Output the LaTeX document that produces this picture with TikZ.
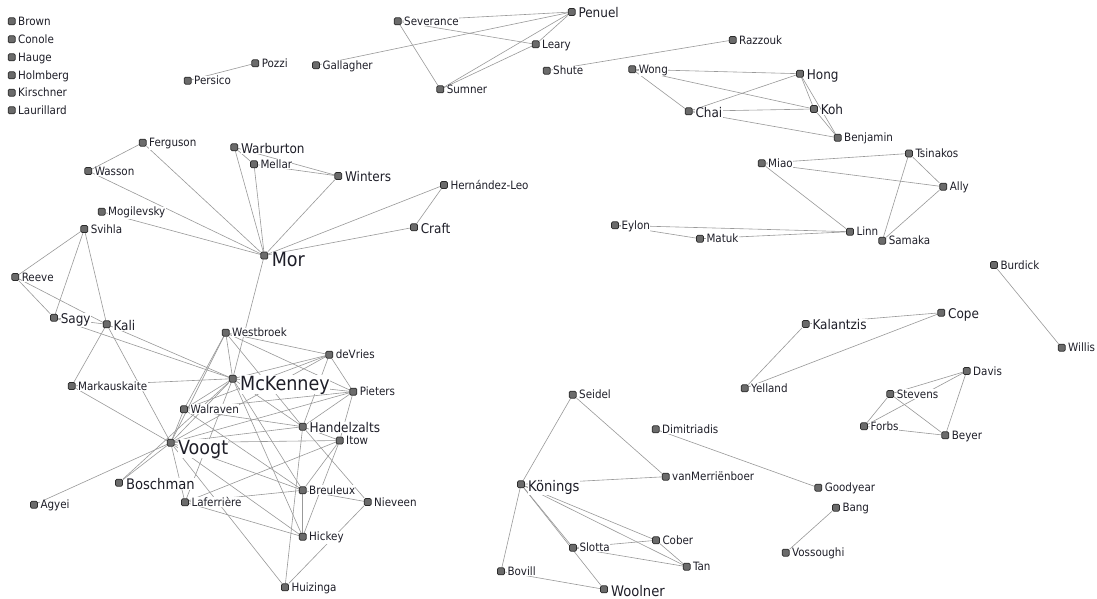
\documentclass[tikz,border=0pt]{standalone}
\usepackage{fontspec}
\setmainfont{DejaVu Sans Condensed}
\definecolor{vfill}{HTML}{6B6B6B}
\definecolor{vdraw}{HTML}{2B2B2B}
\definecolor{labtext}{HTML}{1E1E28}
\definecolor{edgec}{HTML}{999999}
\pgfdeclarelayer{bglayer}
\pgfdeclarelayer{edgelayer}
\pgfsetlayers{bglayer,edgelayer,main}
\tikzset{
  vbox/.style={rectangle, minimum size=7pt, inner sep=0pt, fill=vfill, draw=vdraw, line width=0.7pt, rounded corners=1.3pt},
  lab/.style={anchor=base west, inner sep=0.3pt, fill=white, text=labtext},
  lsn/.style={lab, font=\fontsize{11.5}{12}\selectfont},
  lsm/.style={lab, font=\fontsize{13.4}{14}\selectfont},
  lsl/.style={lab, font=\fontsize{14.6}{15}\selectfont},
  lsx/.style={lab, font=\fontsize{19.5}{20}\selectfont},
  edge/.style={draw=edgec, line width=0.6pt},
}
\newcommand\vtx[6]{\node[vbox] (#1) at (#2,#3) {}; \node[#5] (#1-l) at ([shift={(#6)}]#2,#3) {#4};}
\newcommand\vtxn[4]{\vtx{#1}{#2}{#3}{#4}{lsn}{6,4.2}}
\newcommand\vtxm[4]{\vtx{#1}{#2}{#3}{#4}{lsm}{6.3,5.8}}
\newcommand\vtxl[4]{\vtx{#1}{#2}{#3}{#4}{lsl}{6.6,6.9}}
\newcommand\vtxx[4]{\vtx{#1}{#2}{#3}{#4}{lsx}{7,11.3}}
\begin{document}
\begin{tikzpicture}[x=1pt,y=-1pt]
\begin{pgfonlayer}{bglayer}
\useasboundingbox[fill=white] (0,0) rectangle (1097,598);
\end{pgfonlayer}
% isolated
\vtxn{Brown}{11.7}{21.3}{Brown}
\vtxn{Conole}{11.7}{39.3}{Conole}
\vtxn{Hauge}{11.7}{57.3}{Hauge}
\vtxn{Holmberg}{11.7}{75.3}{Holmberg}
\vtxn{Kirschner}{11.7}{92.7}{Kirschner}
\vtxn{Laurillard}{11.7}{110.3}{Laurillard}
% top
\vtxn{Persico}{187.7}{80.7}{Persico}
\vtxn{Pozzi}{255.3}{63.3}{Pozzi}
\vtxn{Gallagher}{316}{65.3}{Gallagher}
\vtxn{Severance}{397.7}{21.3}{Severance}
\vtxm{Penuel}{571.7}{12}{Penuel}
\vtxn{Leary}{535.7}{44.3}{Leary}
\vtxn{Sumner}{440.3}{89.3}{Sumner}
\vtxn{Shute}{546.7}{70.7}{Shute}
\vtxn{Razzouk}{732.7}{40}{Razzouk}
\vtxn{Wong}{632.3}{69.3}{Wong}
\vtxm{Hong}{800}{73.7}{Hong}
\vtxm{Chai}{688.7}{111.3}{Chai}
\vtxm{Koh}{814}{109}{Koh}
\vtxn{Benjamin}{837.7}{137.7}{Benjamin}
\vtxn{Tsinakos}{909}{153.5}{Tsinakos}
\vtxn{Miao}{761.7}{163.3}{Miao}
\vtxn{Ally}{943.3}{186.7}{Ally}
\vtxn{Eylon}{615}{225.3}{Eylon}
\vtxn{Matuk}{700}{238.7}{Matuk}
\vtxn{Linn}{850}{231.7}{Linn}
\vtxn{Samaka}{882.3}{240.7}{Samaka}
% right
\vtxn{Burdick}{994}{265}{Burdick}
\vtxn{Willis}{1061.7}{347.7}{Willis}
\vtxm{Kalantzis}{805.7}{324}{Kalantzis}
\vtxm{Cope}{941.3}{312.7}{Cope}
\vtxn{Yelland}{744.7}{388.3}{Yelland}
\vtxn{Davis}{966.7}{371}{Davis}
\vtxn{Stevens}{890.3}{394}{Stevens}
\vtxn{Forbs}{864}{426.3}{Forbs}
\vtxn{Beyer}{945.3}{435.3}{Beyer}
\vtxn{Seidel}{572.7}{394.7}{Seidel}
\vtxn{Dimitriadis}{655.7}{429.3}{Dimitriadis}
\vtxn{vM}{665.7}{476.7}{vanMerriënboer}
\vtxn{Goodyear}{818.3}{487.7}{Goodyear}
\vtxn{Bang}{836}{507.7}{Bang}
\vtxn{Vossoughi}{785.7}{552.7}{Vossoughi}
\vtxl{Konings}{521}{484.3}{Könings}
\vtxn{Cober}{656}{540.3}{Cober}
\vtxn{Slotta}{573}{547.7}{Slotta}
\vtxn{Tan}{686.7}{566.7}{Tan}
\vtxn{Bovill}{501}{571.3}{Bovill}
\vtxl{Woolner}{604}{589.3}{Woolner}
% left cluster
\vtxn{Ferguson}{142.7}{142.7}{Ferguson}
\vtxn{Wasson}{88.3}{171}{Wasson}
\vtxm{Warburton}{234.3}{147.3}{Warburton}
\vtxn{Mellar}{254}{164.3}{Mellar}
\vtxm{Winters}{338.3}{176}{Winters}
\vtxn{HL}{444}{185}{Hernández-Leo}
\vtxn{Mogilevsky}{101.7}{211.7}{Mogilevsky}
\vtxm{Craft}{414}{227.3}{Craft}
\vtxn{Svihla}{84.3}{229}{Svihla}
\vtxx{Mor}{264.3}{255.5}{Mor}
\vtxn{Reeve}{15.3}{277}{Reeve}
\vtxm{Sagy}{54}{317.7}{Sagy}
\vtxm{Kali}{106.7}{324.3}{Kali}
\vtxn{Westbroek}{225.7}{332.7}{Westbroek}
\vtxn{deVries}{329.3}{354.7}{deVries}
\vtxx{McKenney}{232.7}{378.7}{McKenney}
\vtxn{Pieters}{353.3}{391.7}{Pieters}
\vtxn{Markauskaite}{71.7}{386}{Markauskaite}
\vtxn{Walraven}{184}{409.3}{Walraven}
\vtxm{Handelzalts}{302.7}{426.7}{Handelzalts}
\vtxn{Itow}{339.7}{440.5}{Itow}
\vtxx{Voogt}{170.7}{442.7}{Voogt}
\vtxl{Boschman}{119}{482.7}{Boschman}
\vtxn{Agyei}{34}{504.7}{Agyei}
\vtxn{Laferriere}{185}{502.3}{Laferrière}
\vtxn{Breuleux}{302.7}{490.3}{Breuleux}
\vtxn{Nieveen}{367.7}{502}{Nieveen}
\vtxn{Hickey}{302.7}{536.7}{Hickey}
\vtxn{Huizinga}{285}{587.3}{Huizinga}
\begin{pgfonlayer}{edgelayer}
\foreach \a/\b in {Persico/Pozzi,
 Severance/Penuel, Severance/Leary, Severance/Sumner, Gallagher/Penuel, Penuel/Leary, Penuel/Sumner, Leary/Sumner,
 Shute/Razzouk,
 Wong/Hong, Wong/Koh, Wong/Chai, Chai/Hong, Chai/Koh, Chai/Benjamin, Hong/Koh, Hong/Benjamin, Koh/Benjamin,
 Miao/Tsinakos, Miao/Ally, Miao/Linn, Tsinakos/Ally, Tsinakos/Samaka, Ally/Samaka, Eylon/Linn, Eylon/Matuk, Matuk/Linn,
 Burdick/Willis,
 Kalantzis/Cope, Kalantzis/Yelland, Yelland/Cope,
 Davis/Stevens, Davis/Forbs, Davis/Beyer, Stevens/Forbs, Stevens/Beyer, Forbs/Beyer,
 Seidel/Konings, Seidel/vM, Konings/vM, Dimitriadis/Goodyear, Bang/Vossoughi,
 Konings/Bovill, Konings/Slotta, Konings/Woolner, Konings/Cober, Konings/Tan, Slotta/Cober, Slotta/Tan, Cober/Tan, Bovill/Woolner,
 Ferguson/Wasson, Ferguson/Mor, Wasson/Mor, Mogilevsky/Mor, Warburton/Mor, Warburton/Mellar, Warburton/Winters, Mellar/Mor, Mellar/Winters, Winters/Mor, HL/Mor, HL/Craft, Craft/Mor,
 Svihla/Reeve, Svihla/Sagy, Svihla/Kali, Reeve/Sagy, Reeve/Kali, Sagy/Kali, Sagy/McKenney, Kali/McKenney, Kali/Markauskaite, Kali/Voogt, Markauskaite/McKenney, Markauskaite/Voogt, Mor/McKenney,
 Westbroek/McKenney, Westbroek/Walraven, Westbroek/Voogt, Westbroek/deVries, Westbroek/Pieters, Westbroek/Handelzalts,
 deVries/McKenney, deVries/Walraven, deVries/Voogt, deVries/Pieters, deVries/Handelzalts,
 McKenney/Pieters, McKenney/Walraven, McKenney/Voogt, McKenney/Handelzalts, McKenney/Breuleux, McKenney/Hickey, McKenney/Boschman, McKenney/Laferriere,
 Pieters/Walraven, Pieters/Voogt, Pieters/Handelzalts, Pieters/Itow,
 Walraven/Voogt, Walraven/Handelzalts, Walraven/Breuleux,
 Voogt/Agyei, Voogt/Boschman, Voogt/Laferriere, Voogt/Itow, Voogt/Handelzalts, Voogt/Breuleux, Voogt/Hickey, Voogt/Huizinga,
 Handelzalts/Itow, Handelzalts/Huizinga, Handelzalts/Nieveen,
 Itow/Laferriere, Itow/Breuleux, Itow/Hickey,
 Breuleux/Hickey, Breuleux/Nieveen, Breuleux/Laferriere,
 Hickey/Laferriere, Huizinga/Nieveen}
 \draw[edge] (\a) -- (\b);
\end{pgfonlayer}
\end{tikzpicture}
\end{document}
